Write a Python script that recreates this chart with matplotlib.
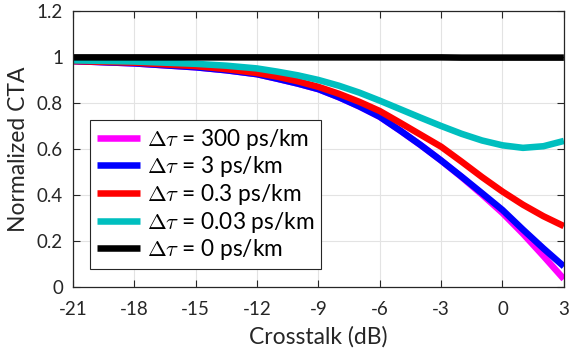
import matplotlib
matplotlib.use("Agg")
import matplotlib.pyplot as plt

# crosstalk (dB)
xt = [-21, -18, -15, -13.5, -12, -11, -10, -9, -8, -7, -6, -5, -4, -3, -2, -1, 0, 1, 2, 3]

cta_300 = [0.982, 0.972, 0.955, 0.942, 0.925, 0.905, 0.884, 0.86, 0.825, 0.785, 0.74, 0.68, 0.617,
           0.55, 0.478, 0.402, 0.322, 0.232, 0.135, 0.035]
cta_3 = [0.982, 0.972, 0.955, 0.942, 0.925, 0.905, 0.884, 0.86, 0.825, 0.785, 0.74, 0.68, 0.617,
         0.55, 0.48, 0.408, 0.335, 0.25, 0.168, 0.09]
cta_03 = [0.982, 0.975, 0.96, 0.947, 0.93, 0.914, 0.894, 0.87, 0.84, 0.805, 0.765, 0.714, 0.662,
          0.61, 0.545, 0.478, 0.415, 0.358, 0.308, 0.265]
cta_003 = [0.985, 0.98, 0.97, 0.962, 0.95, 0.936, 0.92, 0.90, 0.875, 0.845, 0.81, 0.773, 0.736,
           0.70, 0.666, 0.637, 0.616, 0.605, 0.612, 0.635]
cta_0 = [0.998, 0.998, 0.998, 0.998, 0.998, 0.998, 0.998, 0.998, 0.998, 0.998, 0.998, 0.998, 0.998,
         0.998, 0.997, 0.997, 0.997, 0.997, 0.997, 0.997]

series = [
    (cta_300, '#ff00ff', r'$\Delta\tau$ = 300 ps/km'),
    (cta_3, '#0000ff', r'$\Delta\tau$ = 3 ps/km'),
    (cta_03, '#ff0000', r'$\Delta\tau$ = 0.3 ps/km'),
    (cta_003, '#00bfbf', r'$\Delta\tau$ = 0.03 ps/km'),
    (cta_0, '#000000', r'$\Delta\tau$ = 0 ps/km'),
]

plt.rcParams['font.family'] = ['Lato', 'DejaVu Sans']
plt.rcParams['mathtext.fontset'] = 'cm'
plt.rcParams['axes.unicode_minus'] = False

fig = plt.figure(figsize=(5.69, 3.51), dpi=100)
ax = fig.add_axes([0.128, 0.182, 0.863, 0.787])

for y, c, lab in series:
    ax.plot(xt, y, color=c, lw=4.7, label=lab, solid_capstyle='butt', solid_joinstyle='round')

ax.set_xlim(-21, 3)
ax.set_ylim(0, 1.2)
ax.set_xticks(range(-21, 4, 3))
ax.set_yticks([0, 0.2, 0.4, 0.6, 0.8, 1, 1.2])
ax.set_yticklabels(['0', '0.2', '0.4', '0.6', '0.8', '1', '1.2'])
ax.grid(True, color='#e3e3e3', lw=0.8)
ax.set_axisbelow(True)
ax.tick_params(direction='in', top=True, right=True, length=5, width=0.8,
               labelsize=13.5, colors='#262626')
ax.tick_params(axis='x', pad=10)
ax.tick_params(axis='y', pad=7)
for s in ax.spines.values():
    s.set_color('#262626')
    s.set_linewidth(0.9)

ax.set_xlabel('Crosstalk (dB)', fontsize=16.5, color='#262626', labelpad=6)
ax.set_ylabel('Normalized CTA', fontsize=16.5, color='#262626', labelpad=6)

leg = ax.legend(loc='lower left', bbox_to_anchor=(0.035, 0.065), borderaxespad=0,
                fontsize=16.3, fancybox=False, edgecolor='#262626', framealpha=1,
                handlelength=1.9, handletextpad=0.3, labelspacing=0.12,
                borderpad=0.3)
leg.get_frame().set_linewidth(0.8)

fig.savefig('out.png', dpi=100)
